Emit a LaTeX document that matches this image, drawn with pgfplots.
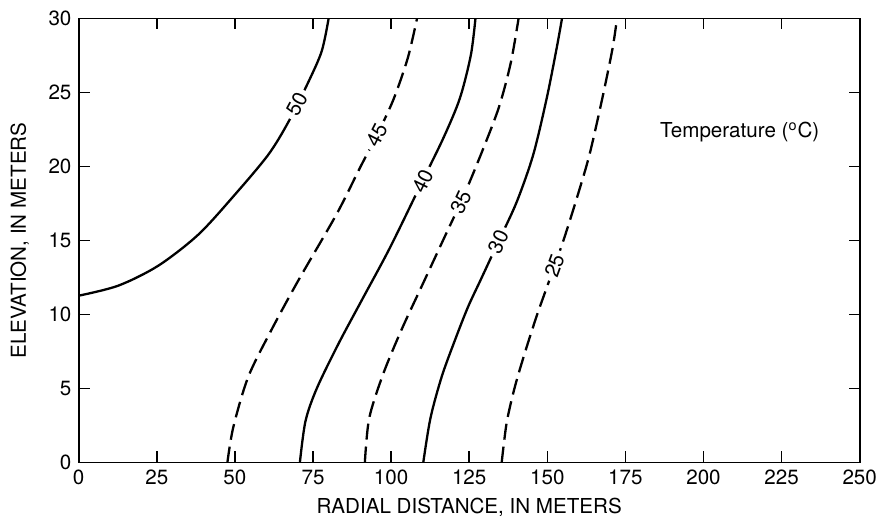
\documentclass[border=0pt]{standalone}
\usepackage{fontspec}
\setmainfont{TeX Gyre Heros}
\usepackage{pgfplots}
\pgfplotsset{compat=1.18}
\begin{document}
\fontsize{10.3}{12}\selectfont
\begin{tikzpicture}
\begin{axis}[
  scale only axis,
  width=390.5pt, height=222pt,
  xmin=0, xmax=250, ymin=0, ymax=30,
  xtick={0,25,...,250}, ytick={0,5,...,30},
  tick align=inside,
  major tick length=5.5pt,
  axis line style={line width=0.8pt},
  every tick/.style={line width=0.8pt, black},
  /pgf/number format/assume math mode=true,
  tick label style={font=\fontsize{10.3}{12}\selectfont},
  label style={font=\fontsize{10.3}{12}\selectfont},
  xlabel={RADIAL DISTANCE, IN METERS},
  ylabel={ELEVATION, IN METERS},
  xlabel style={at={(axis description cs:0.5,-0.1)}, anchor=center},
  ylabel style={at={(axis description cs:-0.0755,0.5)}, anchor=center},
  clip=true,
  every axis plot/.append style={black, line width=1.15pt, smooth, tension=0.5, no marks},
]
% 50 C (solid)
\addplot[] coordinates {
(0,11.27) (12.7,11.95) (25.5,13.3) (38.3,15.4) (50.0,18.1) (60.7,20.8) (67.1,23.0) (73.5,25.7) (77.8,27.8) (80.0,30)};
% 45 C (dashed)
\addplot[dash pattern=on 8pt off 3.5pt] coordinates {
(47.6,0) (49.5,2.4) (54.3,5.8) (61.8,9.0) (70.3,12.3) (82.6,16.8) (90.0,19.9) (95.4,22.1) (100.7,24.5) (105.3,27.3) (108.3,30)};
% 40 C (solid)
\addplot[] coordinates {
(70.8,0) (72.6,2.8) (76.2,5.0) (83.1,8.0) (90.7,11.0) (99.6,14.5) (110.0,19.0) (116.9,22.0) (122.0,24.6) (125.5,27.5) (127.0,30)};
% 35 C (dashed)
\addplot[dash pattern=on 8pt off 3.5pt] coordinates {
(91.6,0) (93.0,3.0) (97.5,6.0) (103.4,9.0) (110.0,12.0) (116.6,15.0) (123.2,18.0) (129.1,21.0) (134.5,24.0) (138.3,27.0) (140.8,30)};
% 30 C (solid)
\addplot[] coordinates {
(110.3,0) (112.6,3.0) (116.2,5.8) (120.5,8.3) (124.6,10.5) (128.8,12.4) (134.3,14.9) (140.2,17.6) (145.5,20.8) (149.8,24.6) (153.0,28.0) (154.7,30)};
% 25 C (dashed)
\addplot[dash pattern=on 8pt off 3.5pt] coordinates {
(135.4,0) (137.0,2.7) (139.6,5.1) (142.8,7.4) (146.6,9.9) (150.3,12.1) (155.0,14.9) (159.5,17.9) (163.5,20.8) (167.6,24.6) (170.9,28.0) (172.3,30)};
% contour labels
\tikzset{clab/.style={fill=white, inner xsep=2.2pt, inner ysep=1.5pt, font=\fontsize{10.3}{12}\selectfont}}
\node[clab, rotate=62] at (axis cs:69.8,24.2) {50};
\node[clab, rotate=63] at (axis cs:95.4,22.1) {45};
\node[clab, rotate=64] at (axis cs:110.1,19.0) {40};
\node[clab, rotate=65] at (axis cs:122.3,17.6) {35};
\node[clab, rotate=65] at (axis cs:134.3,14.9) {30};
\node[clab, rotate=70] at (axis cs:152.3,13.3) {25};
\node[font=\fontsize{10.3}{12}\selectfont] at (axis cs:211.6,22.3) {Temperature (\textsuperscript{o}C)};
\end{axis}
\pgfresetboundingbox
\path[use as bounding box] ([shift={(-39.35pt,-29.25pt)}]current axis.south west) rectangle ([shift={(10.65pt,9.25pt)}]current axis.north east);
\end{tikzpicture}
\end{document}
